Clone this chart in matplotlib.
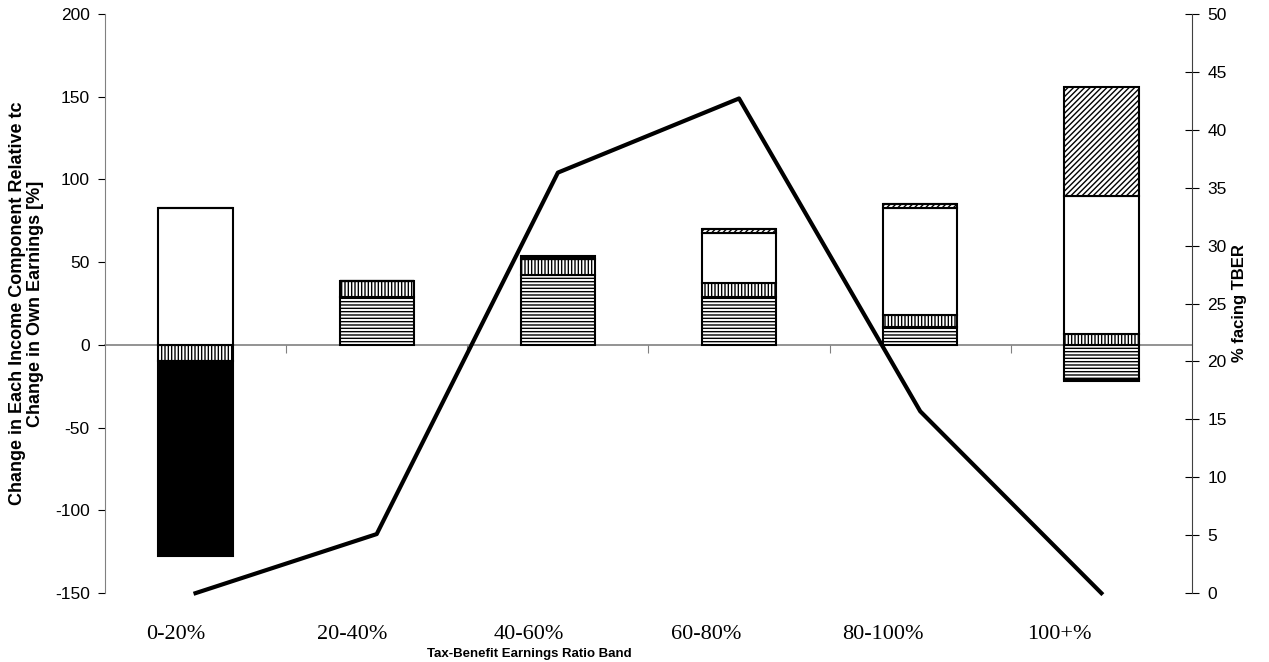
import numpy as np
import matplotlib
matplotlib.use("Agg")
import matplotlib.pyplot as plt

# data
bands = ['0-20%', '20-40%', '40-60%', '60-80%', '80-100%', '100+%']
horiz = [0, 29, 42, 29, 10.7, -20.5]      # horizontal-line pattern
vert = [-9.5, 9.5, 10, 8.7, 7.4, 6.6]     # vertical-line pattern
white = [83, 0, 0, 29.8, 64.5, 83.1]      # plain white
diag = [0, 0, 0, 2.7, 2.6, 66.3]          # diagonal pattern
black = [-118, 0, 2, 0, 0, -1.5]          # solid black
pct_tber = [0, 5.1, 36.3, 42.7, 15.7, 0]  # % facing TBER (right axis)

series = [
    (horiz, 'white', '-----'),
    (vert, 'white', '|||||'),
    (white, 'white', None),
    (diag, 'white', '//////'),
    (black, 'black', None),
]

plt.rcParams['hatch.linewidth'] = 1.0
plt.rcParams['axes.unicode_minus'] = False
plt.rcParams['font.family'] = ['Liberation Sans', 'DejaVu Sans']

fig = plt.figure(figsize=(12.69, 6.62), dpi=100)
ax = fig.add_axes([0.0827, 0.104, 0.8566, 0.875])
x = np.arange(len(bands))

# stack positives upward and negatives downward, Excel style
pos_base = np.zeros(len(bands))
neg_base = np.zeros(len(bands))
for vals, color, hatch in series:
    vals = np.array(vals, dtype=float)
    base = np.where(vals >= 0, pos_base, neg_base)
    ax.bar(x, vals, width=0.41, bottom=base, color=color, hatch=hatch,
           edgecolor='black', linewidth=1.5, zorder=2)
    pos_base = pos_base + np.where(vals > 0, vals, 0)
    neg_base = neg_base + np.where(vals < 0, vals, 0)

ax.set_xlim(-0.5, len(bands) - 0.5)
ax.set_ylim(-150, 200)
ax.set_yticks(range(-150, 201, 50))
ax.tick_params(axis='y', direction='out', length=5, colors='black',
               labelsize=12.5, pad=6)
ax.spines['left'].set_color('#808080')
ax.spines['top'].set_visible(False)
ax.spines['right'].set_visible(False)
ax.spines['bottom'].set_visible(False)

# category labels below the plot (Excel draws them a bit to the left)
offs = 0.11 + 0.024 * x
ax.set_xticks(x - offs)
ax.set_xticklabels(bands, family='Liberation Serif', fontsize=16)
ax.tick_params(axis='x', length=0, pad=23)
ax.set_xlabel('Tax-Benefit Earnings Ratio Band', fontsize=9.5,
              fontweight='bold', x=0.39, labelpad=3)
ax.set_ylabel('Change in Each Income Component Relative tc\nChange in Own Earnings [%]',
              fontsize=13, fontweight='bold', labelpad=8, linespacing=1.05)

# category axis sitting on zero
zero = ax.secondary_xaxis(0, transform=ax.transData)
zero.set_xticks(x[:-1] + 0.5)
zero.set_xticklabels([])
zero.tick_params(direction='out', length=6, color='#808080')
zero.spines['bottom'].set_color('#808080')
zero.spines['bottom'].set_linewidth(1.2)

ax2 = ax.twinx()
ax2.plot(x, pct_tber, color='black', linewidth=3, zorder=3, clip_on=False)
ax2.set_ylim(0, 50)
ax2.set_yticks(range(0, 51, 5))
ax2.tick_params(axis='y', direction='inout', length=10, labelsize=12.5, pad=6)
for s in ['top', 'left', 'bottom']:
    ax2.spines[s].set_visible(False)
ax2.spines['right'].set_color('#404040')
ax2.set_ylabel('% facing TBER', fontsize=12, fontweight='bold', labelpad=4)

fig.savefig('out.png', dpi=100)
